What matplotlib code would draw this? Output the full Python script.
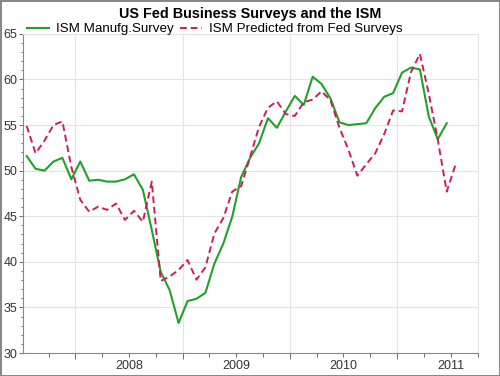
import numpy as np
import matplotlib
matplotlib.use("Agg")
import matplotlib.pyplot as plt

plt.rcParams['font.family'] = ['Liberation Sans', 'DejaVu Sans']

# monthly values
ism_actual = [51.6, 50.2, 50.0, 51.0, 51.4, 49.05, 51.0, 48.9, 49.0, 48.8, 48.8, 49.05,
              49.6, 47.9, 43.5, 38.9, 36.9, 33.3, 35.7, 35.95, 36.6, 39.8, 42.0, 44.95,
              49.3, 51.4, 53.0, 55.75, 54.7, 56.5, 58.2, 57.2, 60.3, 59.5, 57.9, 55.3,
              55.0, 55.1, 55.2, 56.85, 58.1, 58.5, 60.75, 61.3, 61.1, 55.9, 53.45, 55.2]
ism_predicted = [54.9, 51.9, 53.3, 55.0, 55.4, 50.4, 46.8, 45.5, 46.05, 45.7, 46.4, 44.6,
                 45.6, 44.4, 48.8, 37.9, 38.4, 39.1, 40.2, 38.05, 39.4, 43.1, 44.8, 47.7,
                 48.3, 51.5, 54.8, 56.9, 57.6, 56.2, 56.0, 57.5, 57.8, 58.7, 57.7, 54.7,
                 52.3, 49.45, 50.7, 51.9, 54.0, 56.6, 56.5, 60.8, 62.8, 58.4, 53.4, 47.7, 50.7]
years = ["2008", "2009", "2010", "2011"]

green = "#22a12a"
red = "#cc1f55"

fig = plt.figure(figsize=(5, 3.76), dpi=100)
fig.patch.set_edgecolor("#888888")
fig.patch.set_linewidth(2)
ax = fig.add_axes([0.046, 0.061, 0.91, 0.849])

ax.plot(np.arange(len(ism_actual)), ism_actual, color=green, lw=1.5,
        label="ISM Manufg.Survey")
ax.plot(np.arange(len(ism_predicted)), ism_predicted, color=red, lw=1.4,
        linestyle=(0, (3.5, 2)), label="ISM Predicted from Fed Surveys")

ax.set_xlim(-0.41, 50.5)
ax.set_ylim(30, 65)

# year boundaries drawn as grid, labels sit on the quarter ticks
grid_x = 5.45 + 12 * np.arange(4)
label_x = 11.45 + 12 * np.arange(4)
quarter_x = [q for q in 2.45 + 3 * np.arange(17) if min(abs(q - grid_x)) > 0.5]
ax.set_xticks(grid_x)
ax.set_xticklabels([])
ax.set_xticks(quarter_x, minor=True)
ax.set_xticklabels([years[list(label_x).index(q)] if q in label_x else "" for q in quarter_x],
                   minor=True)
ax.set_yticks(np.arange(30, 66, 5))
ax.set_yticks(np.arange(30, 66, 1), minor=True)

ax.grid(True, which="major", color="#e3e3e3", lw=0.8)
ax.tick_params(axis="both", which="both", colors="#555555", labelcolor="#333333",
               labelsize=9, width=0.6)
ax.tick_params(axis="x", which="major", length=4, direction="out")
ax.tick_params(axis="x", which="minor", length=3, direction="out", pad=2)
ax.tick_params(axis="y", which="major", length=3, pad=1)
ax.tick_params(axis="y", which="minor", length=1.5)

for s in ["left", "bottom"]:
    ax.spines[s].set_color("#888888")
    ax.spines[s].set_linewidth(0.8)
for s in ["top", "right"]:
    ax.spines[s].set_color("#e3e3e3")
    ax.spines[s].set_linewidth(0.8)

fig.suptitle("US Fed Business Surveys and the ISM", fontsize=10.4, fontweight="bold",
             y=0.982, va="top")
fig.legend(loc="center left", bbox_to_anchor=(0.054, 0.922), ncol=2, frameon=False,
           fontsize=9.6, handlelength=1.65, handletextpad=0.55, columnspacing=0.45,
           borderaxespad=0, borderpad=0)

fig.savefig("out.png", dpi=100)
